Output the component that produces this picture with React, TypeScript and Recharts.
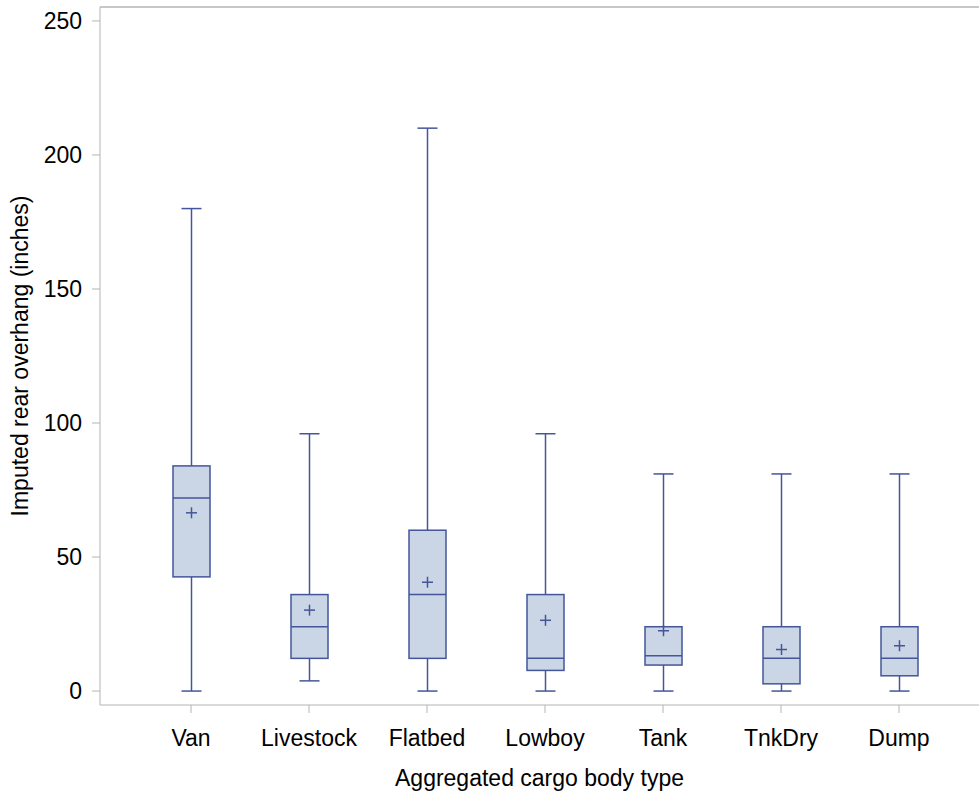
import { ComposedChart, Bar, XAxis, YAxis, ReferenceLine } from 'recharts';

// box plot stats (inches)
const categories = ['Van', 'Livestock', 'Flatbed', 'Lowboy', 'Tank', 'TnkDry', 'Dump'];
const whiskerLow = [0, 3.8, 0, 0, 0, 0, 0];
const q1 = [42.6, 12.2, 12.2, 7.7, 9.7, 2.7, 5.7];
const median = [72, 24, 36, 12.2, 13.2, 12.2, 12.2];
const q3 = [84, 36, 60, 36, 24, 24, 24];
const whiskerHigh = [180, 96, 210, 96, 81, 81, 81];
const mean = [66.5, 30.2, 40.6, 26.4, 22.5, 15.5, 16.9];
const yTicks = [0, 50, 100, 150, 200, 250];
const yDomain = [-5.2, 255.2];

const data = categories.map((name, i) => ({
  name,
  low: whiskerLow[i],
  q1: q1[i],
  median: median[i],
  q3: q3[i],
  high: whiskerHigh[i],
  mean: mean[i],
}));

const LINE = '#44559a';
const FILL = '#cad5e5';
const AXIS = '#b4b4b4';
const FONT = '"Liberation Sans", Arial, sans-serif';
const FS = 23;

// draws whiskers, box, median and mean from the bar's [low, high] rectangle
const BoxShape = (props: any) => {
  const { x, y, width, height, payload } = props;
  const top = Math.min(y, y + height);
  const bottom = Math.max(y, y + height);
  const { low, high } = payload;
  const py = (v: number) => bottom - ((bottom - top) * (v - low)) / (high - low);
  const cx = x + width / 2;
  const cap = 10;
  const yq1 = py(payload.q1);
  const yq3 = py(payload.q3);
  const ym = py(payload.mean);
  return (
    <g stroke={LINE} strokeWidth={1.5} fill="none">
      <line x1={cx} x2={cx} y1={top} y2={yq3} />
      <line x1={cx} x2={cx} y1={yq1} y2={bottom} />
      <line x1={cx - cap} x2={cx + cap} y1={top} y2={top} />
      <line x1={cx - cap} x2={cx + cap} y1={bottom} y2={bottom} />
      <rect x={x} y={yq3} width={width} height={yq1 - yq3} fill={FILL} />
      <line x1={x} x2={x + width} y1={py(payload.median)} y2={py(payload.median)} />
      <line x1={cx - 5.5} x2={cx + 5.5} y1={ym} y2={ym} />
      <line x1={cx} x2={cx} y1={ym - 5.5} y2={ym + 5.5} />
    </g>
  );
};

export default function App() {
  return (
    <div style={{ position: 'absolute', left: 0, top: 0, background: '#fff' }}>
      <ComposedChart
        width={979}
        height={792}
        data={data}
        margin={{ top: 7, right: 0, bottom: 0, left: 0 }}
      >
        <XAxis
          dataKey="name"
          padding={{ left: 32, right: 21 }}
          height={87}
          stroke={AXIS}
          tickSize={8}
          tickMargin={17}
          tick={{ fill: '#000', fontSize: FS, fontFamily: FONT }}
          label={{
            value: 'Aggregated cargo body type',
            position: 'insideBottom',
            offset: 6,
            fill: '#000',
            fontSize: FS,
            fontFamily: FONT,
          }}
        />
        <YAxis
          type="number"
          domain={yDomain}
          ticks={yTicks}
          width={100}
          stroke={AXIS}
          tickSize={8}
          tickMargin={10}
          tick={{ fill: '#000', fontSize: FS, fontFamily: FONT }}
          label={{
            content: ({ viewBox }: any) => {
              const cy = viewBox.y + viewBox.height / 2;
              return (
                <text
                  x={28}
                  y={cy}
                  transform={`rotate(-90, 28, ${cy})`}
                  textAnchor="middle"
                  fill="#000"
                  fontSize={FS}
                  fontFamily={FONT}
                >
                  Imputed rear overhang (inches)
                </text>
              );
            },
          }}
        />
        <ReferenceLine y={yDomain[1]} stroke={AXIS} strokeWidth={1.5} ifOverflow="visible" />
        <Bar
          dataKey={(d: any) => [d.low, d.high]}
          barSize={37}
          shape={BoxShape}
          isAnimationActive={false}
        />
      </ComposedChart>
    </div>
  );
}
